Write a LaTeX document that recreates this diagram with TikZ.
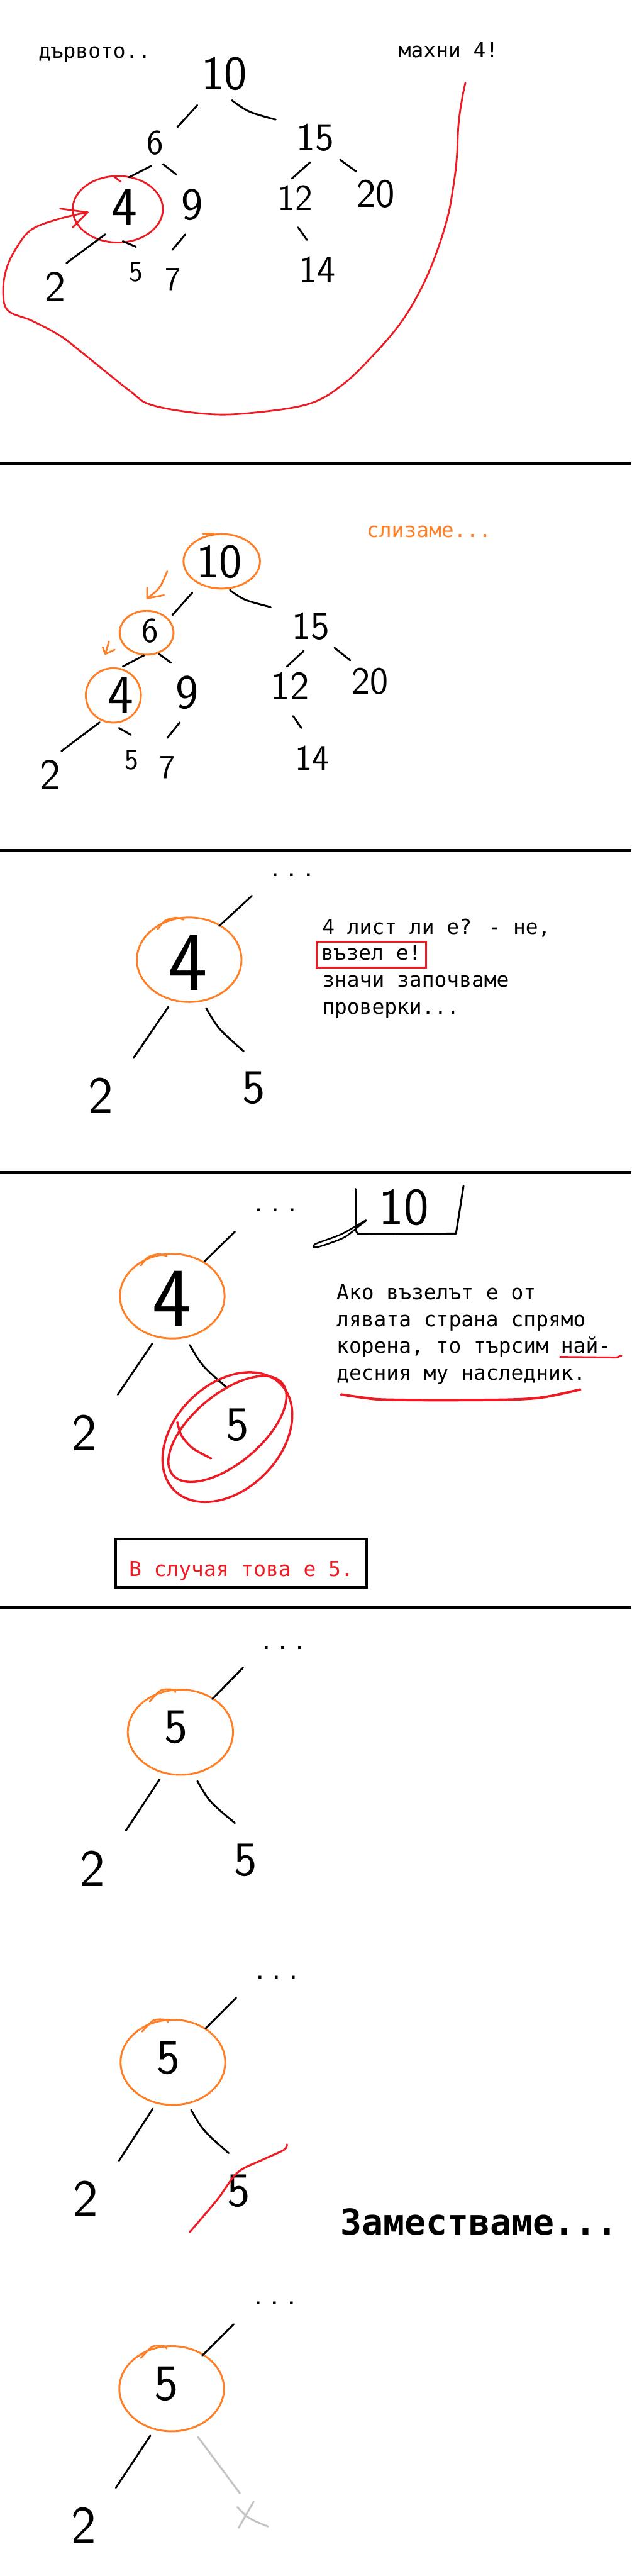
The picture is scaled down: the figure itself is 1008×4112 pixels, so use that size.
\documentclass[tikz,border=0pt]{standalone}
\usepackage{fontspec}
\newfontfamily\monofam{DejaVu Sans Mono}
\usetikzlibrary{calc,shapes.geometric}
\newdimen\px \px=0.025cm
\definecolor{pOrange}{HTML}{FF7F27}
\definecolor{pRed}{HTML}{ED1C24}
\definecolor{pGray}{HTML}{C3C3C3}
\newcommand\hwf[1]{\sffamily\fontsize{#1}{#1}\selectfont}
\newcommand\monof{\monofam\fontsize{23.5}{28}\selectfont}
\begin{document}
\begin{tikzpicture}[x=0.025cm, y=-0.025cm,
  hw/.style={font={\hwf{#1}}, inner sep=0pt},
  mono/.style={font=\monof, anchor=base west, inner sep=0pt},
  pen/.style={line width=2.1pt, line cap=round, line join=round},
  opencirc/.style={ellipse, draw=pOrange, line width=2.1pt, inner sep=0pt},
  rpen/.style={draw=pRed, line width=2pt, line cap=round, line join=round},
  opart/.style={draw=pOrange, line width=2pt, line cap=round, line join=round},
  hdots/.style={font={\hwf{40}}, inner sep=0pt}]
\useasboundingbox (0,0) rectangle (1008,4112);
\fill[white] (0,0) rectangle (1008,4112);

% separators
\foreach \yy in {740,1358,1872,2565} \draw[line width=5\px] (0,\yy) -- (1008,\yy);

% ================= panel 1 =================
\node[mono] (lblTree) at (61,93) {дървото..};
\node[mono] (lblRemove) at (636,92) {махни 4!};
\node[hw=55] (t1n10) at (358,118) {10};
\node[hw=40] (t1n6) at (248,228) {6};
\node[hw=45] (t1n15) at (503,220) {15};
\node[hw=62] (t1n4) at (199,330) {4};
\node[ellipse, draw=pRed, line width=2pt, inner sep=0pt, minimum width=144\px, minimum height=106\px] (t1c4) at (188,334) {};
\node[hw=52] (t1n9) at (307,327) {9};
\node[hw=42] (t1n12) at (471,316) {12};
\node[hw=46] (t1n20) at (600,310) {20};
\node[hw=50] (t1n2) at (88,458) {2};
\node[hw=33] (t1n5) at (217,434) {5};
\node[hw=38] (t1n7) at (276,446) {7};
\node[hw=44] (t1n14) at (506,430) {14};
\draw[pen] ($(t1n10)+(-43,50)$) -- ($(t1n6)+(35,-25)$);
\draw[pen] ($(t1n10)+(12,42)$) .. controls ($(t1n10)+(38,61)$) .. ($(t1n15)+(-63,-29)$);
\draw[pen] ($(t1n6)+(-7,37)$) -- ($(t1c4)+(18,-51)$);
\draw[pen] ($(t1n6)+(12,34)$) -- ($(t1n9)+(-25,-48)$);
\draw[pen] ($(t1n15)+(-8,39)$) -- ($(t1n12)+(-5,-31)$);
\draw[pen] ($(t1n15)+(40,35)$) -- ($(t1n20)+(-31,-36)$);
\draw[pen] ($(t1c4)+(-20,40)$) -- ($(t1n2)+(18,-38)$);
\draw[pen] ($(t1c4)+(8,51)$) -- ($(t1n5)+(0,-40)$);
\draw[pen] ($(t1n9)+(-11,47)$) -- ($(t1n7)+(-1,-47)$);
\draw[pen] ($(t1n12)+(5,47)$) -- ($(t1n14)+(-16,-47)$);
\draw[rpen] ($(t1c4)+(-6,-52)$) -- ($(t1c4)+(5,-44)$);
% red curved arrow
\coordinate (rStart) at (743,132);
\coordinate (rTip) at (140,339);
\draw[rpen] plot[smooth, tension=0.6] coordinates {(743,132) (738,156) (732,198) (729,255) (723,302) (714,349) (694,411) (669,467) (637,519) (592,571) (547,614) (495,644) (412,658) (334,661) (244,647) (206,623) (135,566) (96,536) (51,512) (13,496) (5,467) (10,430) (26,396) (51,366) (96,349) (140,339)};
\draw[rpen] (rTip) -- ++(-44,-6) (rTip) -- ++(-24,24);

% ================= panel 2 =================
\node[mono, text=pOrange] (lblDown) at (585,858) {слизаме...};
\node[hw=55] (t2n10) at (350,897) {10};
\node[opencirc, minimum width=122\px, minimum height=87\px] (t2c10) at (354,896) {};
\node[hw=40] (t2n6) at (240,1007) {6};
\node[opencirc, minimum width=86\px, minimum height=70\px] (t2c6) at (234,1010) {};
\node[hw=45] (t2n15) at (496,1000) {15};
\node[hw=62] (t2n4) at (193,1109) {4};
\node[opencirc, minimum width=88\px, minimum height=87\px] (t2c4) at (181,1110) {};
\node[hw=55] (t2n9) at (299,1106) {9};
\node[hw=46] (t2n12) at (463,1095) {12};
\node[hw=44] (t2n20) at (591,1088) {20};
\node[hw=50] (t2n2) at (80,1237) {2};
\node[hw=33] (t2n5) at (210,1213) {5};
\node[hw=38] (t2n7) at (267,1225) {7};
\node[hw=41] (t2n14) at (498,1210) {14};
\draw[pen] ($(t2c10)+(-47,50)$) -- ($(t2c6)+(41,-28)$);
\draw[pen] ($(t2c10)+(13,46)$) .. controls ($(t2c10)+(35,62)$) .. ($(t2n15)+(-64,-31)$);
\draw[pen] ($(t2c6)+(-4,36)$) -- ($(t2c4)+(15,-46)$);
\draw[pen] ($(t2c6)+(20,34)$) -- ($(t2n9)+(-26,-48)$);
\draw[pen] ($(t2n15)+(-11,39)$) -- ($(t2n12)+(-5,-31)$);
\draw[pen] ($(t2n15)+(38,34)$) -- ($(t2n20)+(-32,-34)$);
\draw[pen] ($(t2c4)+(-22,43)$) -- ($(t2n2)+(18,-38)$);
\draw[pen] ($(t2c4)+(9,52)$) -- ($(t2n5)+(-1,-40)$);
\draw[pen] ($(t2n9)+(-12,47)$) -- ($(t2n7)+(0,-47)$);
\draw[pen] ($(t2n12)+(5,48)$) -- ($(t2n14)+(-17,-48)$);
\draw[opart] ($(t2c10)+(-30,-44)$) -- ($(t2c10)+(-13,-44)$);
% orange arrows
\coordinate (oa1s) at (267,912); \coordinate (oa1e) at (235,955);
\draw[opart] (oa1s) .. controls (255,940) .. (oa1e) -- ++(0,-17) (oa1e) -- ++(27,-5);
\coordinate (oa2s) at (174,1024); \coordinate (oa2e) at (168,1044);
\draw[opart] (oa2s) -- (oa2e) -- ++(-4,-11) (oa2e) -- ++(15,-7);

% ================= panel 3 =================
\node[hdots] (p3dots) at (466,1397) {.\kern12\px.\kern12\px.};
\node[hw=95] (p3n4) at (300,1537) {4};
\node[opencirc, minimum width=167\px, minimum height=135\px] (p3c4) at (302,1532) {};
\node[hw=60] (p3n2) at (161,1749) {2};
\node[hw=55] (p3n5) at (405,1737) {5};
\draw[opart] plot[smooth] coordinates {($(p3c4)+(-50,-49)$) ($(p3c4)+(-39,-62)$) ($(p3c4)+(-22,-67)$) ($(p3c4)+(-9,-64)$)};
\draw[pen] ($(p3c4)+(48,-54)$) -- ($(p3dots)+(-64,33)$);
\draw[pen] ($(p3c4)+(-33,75)$) -- ($(p3n2)+(52,-60)$);
\draw[pen] ($(p3c4)+(27,77)$) .. controls ($(p3c4)+(46,110)$) .. ($(p3n5)+(-16,-59)$);
\node[mono] (p3t1) at (514,1491) {4 лист ли е? - не,};
\node[draw=pRed, line width=3\px, font=\monof, inner sep=0pt, minimum width=175\px, minimum height=41\px, text height=25\px, text depth=8\px] (p3t2) at (592.5,1523.5) {възел е!};
\node[mono] (p3t3) at (514,1576) {значи започваме};
\node[mono] (p3t4) at (514,1619) {проверки...};

% ================= panel 4 =================
\node[hdots] (p4dots) at (440,1932) {.\kern12\px.\kern12\px.};
\node[hw=95] (p4n4) at (275,2073) {4};
\node[opencirc, minimum width=167\px, minimum height=135\px] (p4c4) at (275,2069) {};
\node[hw=60] (p4n2) at (135,2287) {2};
\node[hw=55] (p4n5) at (379,2275) {5};
\draw[opart] plot[smooth] coordinates {($(p4c4)+(-50,-49)$) ($(p4c4)+(-39,-62)$) ($(p4c4)+(-22,-67)$) ($(p4c4)+(-9,-64)$)};
\draw[pen] ($(p4c4)+(52,-56)$) -- ($(p4dots)+(-65,34)$);
\draw[pen] ($(p4c4)+(-32,76)$) -- ($(p4n2)+(53,-61)$);
\draw[pen] ($(p4c4)+(28,78)$) .. controls ($(p4c4)+(47,111)$) .. ($(p4n5)+(-18,-61)$);
% boxed 10
\node[hw=60] (p4n10) at (645,1927) {10};
\draw[pen] (568,1898) -- (568,1962) .. controls (570,1970) .. (580,1970) -- (728,1969) -- (740,1893);
\draw[pen, line width=1.8pt] plot[smooth cycle, tension=0.5] coordinates {(584,1948) (545,1970) (503,1986) (506,1991) (548,1976) (572,1958)};
% double loop around 5
\draw[rpen, line width=3.5\px, rotate around={40:(363,2281)}] (363,2281) ellipse [x radius=114, y radius=55];
\draw[rpen, line width=3.5\px, rotate around={45:(363,2294)}] (363,2294) ellipse [x radius=120, y radius=84];
\draw[rpen, line width=3.5\px] plot[smooth] coordinates {(337,2328) (308,2312) (290,2292) (283,2270)};
\node[mono] (p4t1) at (537,2075) {Ако възелът е от};
\node[mono] (p4t2) at (537,2118) {лявата страна спрямо};
\node[mono] (p4t3) at (537,2160) {корена, то търсим най-};
\node[mono] (p4t4) at (537,2203) {десния му наследник.};
\draw[rpen, line width=3\px] (894,2166) -- (984,2167) -- (992,2164);
\draw[rpen, line width=4\px] plot[smooth] coordinates {(545,2226) (580,2231) (611,2234) (700,2235) (817,2234) (870,2230) (926,2218)};
\node[draw, line width=4\px, font=\monof, text=pRed, inner sep=0pt, minimum width=400\px, minimum height=77\px, text height=47\px, text depth=6\px] (p4box) at (385,2495.5) {В случая това е 5.};

% ================= panel 5 =================
\node[hdots] (p5dots) at (452,2630) {.\kern12\px.\kern12\px.};
\node[hw=56] (p5n5) at (281,2757) {5};
\node[opencirc, minimum width=168\px, minimum height=136\px] (p5c5) at (288,2765) {};
\node[hw=60] (p5n2) at (148,2983) {2};
\node[hw=55] (p5n5b) at (392,2969) {5};
\draw[opart] plot[smooth] coordinates {($(p5c5)+(-49,-49)$) ($(p5c5)+(-31,-67)$) ($(p5c5)+(-12,-68)$) ($(p5c5)+(-8,-64)$)};
\draw[pen] ($(p5c5)+(51,-53)$) -- ($(p5dots)+(-64,32)$);
\draw[pen] ($(p5c5)+(-33,75)$) -- ($(p5n2)+(53,-61)$);
\draw[pen] ($(p5c5)+(27,78)$) .. controls ($(p5c5)+(46,111)$) .. ($(p5n5b)+(-17,-59)$);

% ================= panel 6 =================
\node[hdots] (p6dots) at (442,3157) {.\kern12\px.\kern12\px.};
\node[hw=56] (p6n5) at (269,3285) {5};
\node[opencirc, minimum width=167\px, minimum height=136\px] (p6c5) at (276,3292) {};
\node[hw=60] (p6n2) at (137,3510) {2};
\node[hw=55] (p6n5b) at (381,3497) {5};
\draw[opart] plot[smooth] coordinates {($(p6c5)+(-49,-49)$) ($(p6c5)+(-31,-67)$) ($(p6c5)+(-12,-68)$) ($(p6c5)+(-8,-64)$)};
\draw[pen] ($(p6c5)+(52,-54)$) -- ($(p6dots)+(-65,32)$);
\draw[pen] ($(p6c5)+(-32,74)$) -- ($(p6n2)+(53,-61)$);
\draw[pen] ($(p6c5)+(29,76)$) .. controls ($(p6c5)+(48,109)$) .. ($(p6n5b)+(-16,-60)$);
\draw[rpen, line width=2.2pt] plot[smooth] coordinates {(458,3423) (453,3432) (418,3448) (379,3468) (347,3511) (303,3563)};
\node[mono, font=\monofam\bfseries\fontsize{40.3}{48}\selectfont] (lblReplace) at (543,3567) {Заместваме...};

% ================= panel 7 =================
\node[hdots] (p7dots) at (439,3677) {.\kern12\px.\kern12\px.};
\node[hw=58] (p7n5) at (266,3805) {5};
\node[opencirc, minimum width=167\px, minimum height=136\px] (p7c5) at (274,3813) {};
\node[hw=60] (p7n2) at (134,4031) {2};
\coordinate (p7x) at (404,4015);
\draw[opart] plot[smooth] coordinates {($(p7c5)+(-49,-49)$) ($(p7c5)+(-31,-67)$) ($(p7c5)+(-12,-68)$) ($(p7c5)+(-8,-64)$)};
\draw[pen] ($(p7c5)+(49,-53)$) -- ($(p7dots)+(-66,33)$);
\draw[pen] ($(p7c5)+(-34,75)$) -- ($(p7n2)+(51,-60)$);
\draw[pen, pGray] ($(p7c5)+(42,77)$) -- ($(p7x)+(-21,-35)$);
\draw[pen, pGray] ($(p7x)+(1,-22)$) -- ($(p7x)+(-23,20)$);
\draw[pen, pGray] ($(p7x)+(-25,-13)$) .. controls ($(p7x)+(-8,5)$) .. ($(p7x)+(24,18)$);
\end{tikzpicture}
\end{document}
